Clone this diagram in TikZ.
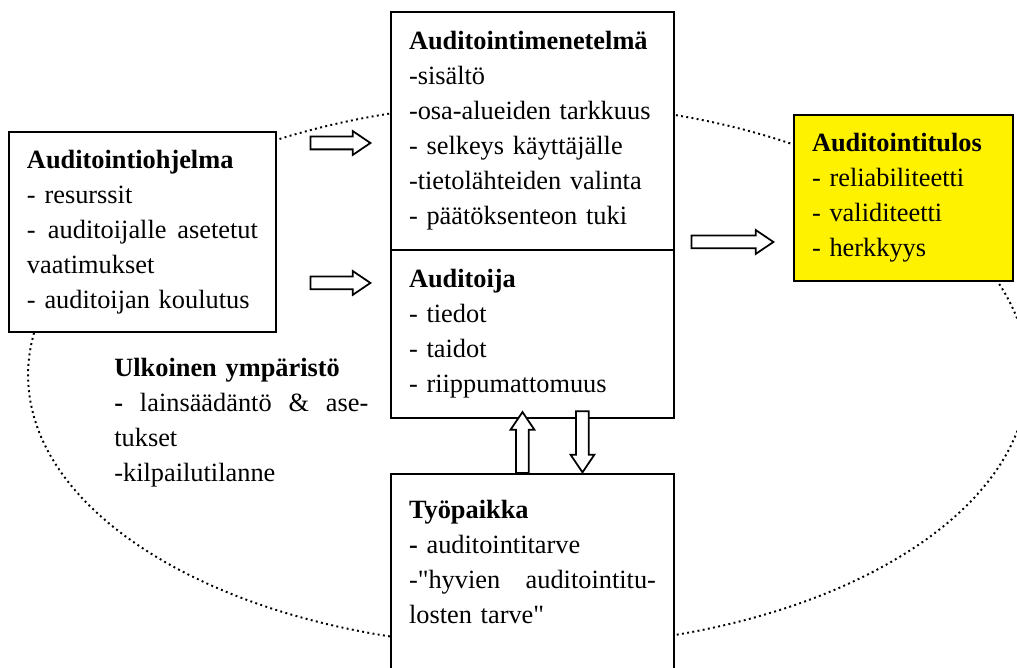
\documentclass[tikz,border=0pt]{standalone}
\usepackage{fontspec}
\setmainfont{Liberation Serif}
\newfontfamily\plainfont{Liberation Serif}
\usetikzlibrary{positioning,calc,shapes.geometric,shapes.arrows}
\newcommand{\suora}{{\plainfont"}}

\begin{document}
\begin{tikzpicture}[x=0.02cm, y=-0.02cm, font=\fontsize{15}{19.9}\selectfont,
            box/.style={rectangle,draw=black,line width=1.1pt,fill=white,align=left,inner xsep=0.36cm,inner ysep=0pt,outer sep=0pt},
            blockarrow/.style={single arrow,draw=black,line width=1pt,fill=white,inner sep=0.11cm,minimum width=0.44cm,single arrow head extend=0.11cm,single arrow tip angle=68},
            env/.style={ellipse,draw=black,line width=1.1pt,dash pattern=on 1.1pt off 1.9pt,inner sep=0pt,minimum width=20cm,minimum height=10.88cm}]

            \path[use as bounding box, fill=white] (0,0) rectangle (1017,668);
            \node[env] (env) at (528,375) {};

            \node[box, anchor=north west, text width=4.62cm, minimum height=4cm] (ohj) at (9,132)
            {
               \textbf{Auditointiohjelma}\\
               - resurssit\\
               \makebox[4.62cm][s]{-\hspace{0.3em}\hfill auditoijalle\hspace{0.25em}\hfill asetetut}\\
               vaatimukset\\
               - auditoijan koulutus
            };
            \node[box, anchor=north west, text width=4.94cm, minimum height=4.76cm] (met) at (391,12)
            {
               \textbf{Auditointimenetelmä}\\
               -sisältö\\
               -osa-alueiden tarkkuus\\
               - selkeys käyttäjälle\\
               -tietolähteiden valinta\\
               - päätöksenteon tuki
            };
            \node[box, text width=4.94cm, minimum height=3.36cm, below=0pt of met] (aud)
            {
               \textbf{Auditoija}\\
               - tiedot\\
               - taidot\\
               - riippumattomuus
            };
            \node[box, anchor=north west, text width=3.66cm, minimum height=3.32cm, fill=yellow] (tulos) at (794,115)
            {
               \textbf{Auditointitulos}\\
               - reliabiliteetti\\
               - validiteetti\\
               - herkkyys
            };
            \node[box, text width=4.94cm, inner ysep=0.52cm, below=1.12cm of aud] (tyo)
            {
               \textbf{Työpaikka}\\
               \textbf{-} auditointitarve\\
               \makebox[4.94cm][s]{-\suora hyvien\hfill auditointitu-}\\
               losten tarve\suora\\
               \mbox{}\\
               \mbox{}
            };
            \node[anchor=north west, align=left, text width=5.08cm, inner sep=0pt] (ymp) at (114,358)
            {
               \textbf{Ulkoinen ympäristö}\\
               \makebox[5.08cm][s]{\textbf{-}\hfill lainsäädäntö\hfill\&\hfill ase-}\\
               tukset\\
               -kilpailutilanne
            };

            \node[blockarrow, minimum height=1.2cm, anchor=tip] (a1) at ($(met.west |- ohj.north)+(-19,11)$) {};
            \node[blockarrow, minimum height=1.2cm, anchor=tip] (a2) at ($(aud.north west)+(-19,33)$) {};
            \node[blockarrow, minimum height=1.64cm, anchor=tip] (a3) at ($(tulos.west)+(-19,44)$) {};
            \node[blockarrow, minimum height=1.22cm, shape border rotate=90, anchor=tail] (ylos) at ($(tyo.north)+(-10,0)$) {};
            \node[blockarrow, minimum height=1.22cm, shape border rotate=270, anchor=tip] (alas) at ($(tyo.north)+(50,0)$) {};
         \end{tikzpicture}
\end{document}
